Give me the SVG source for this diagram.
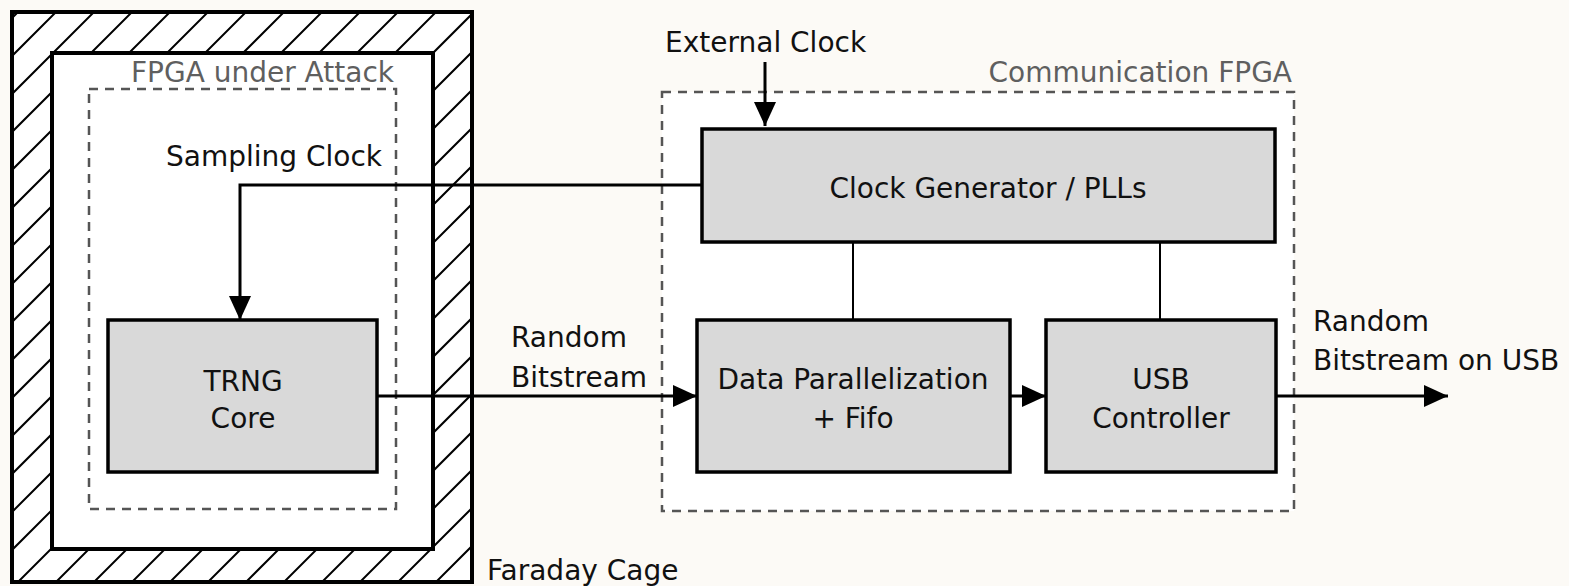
<svg xmlns="http://www.w3.org/2000/svg" width="1569" height="586" viewBox="0 0 1569 586">
<defs>
<clipPath id="cageclip">
<path d="M12,12 H472 V582 H12 Z M52,53 V549 H433 V53 Z" clip-rule="evenodd"/>
</clipPath>
<marker id="arr" viewBox="0 0 10 10" refX="10" refY="5" markerWidth="24" markerHeight="22" markerUnits="userSpaceOnUse" orient="auto" preserveAspectRatio="none">
<path d="M0,0 L10,5 L0,10 z" fill="#000"/>
</marker>
</defs>
<style>
.box{fill:#d9d9d9;stroke:#000;stroke-width:3.5}
.dash{fill:none;stroke:#555;stroke-width:2.5;stroke-dasharray:9,7}
.t{font-family:"DejaVu Sans",Verdana,sans-serif;font-size:28px;fill:#111}
.g{font-family:"DejaVu Sans",Verdana,sans-serif;font-size:28px;fill:#5f5f5f}
.c{text-anchor:middle}
.line{fill:none;stroke:#000;stroke-width:3}
.hatch{fill:none;stroke:#000;stroke-width:2}
</style>
<rect x="0" y="0" width="1569" height="586" fill="#fcfaf6"/>
<g id="faraday-cage">
<rect x="12" y="12" width="460" height="570" fill="#fff"/>
<path class="hatch" clip-path="url(#cageclip)" d="M-560,590 L30,0 M-522,590 L68,0 M-484,590 L106,0 M-446,590 L144,0 M-408,590 L182,0 M-370,590 L220,0 M-332,590 L258,0 M-294,590 L296,0 M-256,590 L334,0 M-218,590 L372,0 M-180,590 L410,0 M-142,590 L448,0 M-104,590 L486,0 M-66,590 L524,0 M-28,590 L562,0 M10,590 L600,0 M48,590 L638,0 M86,590 L676,0 M124,590 L714,0 M162,590 L752,0 M200,590 L790,0 M238,590 L828,0 M276,590 L866,0 M314,590 L904,0 M352,590 L942,0 M390,590 L980,0 M428,590 L1018,0 M466,590 L1056,0"/>
<rect x="12" y="12" width="460" height="570" fill="none" stroke="#000" stroke-width="4"/>
<rect x="52" y="53" width="381" height="496" fill="#fff" stroke="#000" stroke-width="4"/>
<text class="t" x="487" y="580">Faraday Cage</text>
</g>
<g id="fpga-under-attack">
<rect class="dash" x="89" y="89" width="307" height="420"/>
<text class="g" x="394" y="82" text-anchor="end">FPGA under Attack</text>
<text class="t" x="382" y="166" text-anchor="end">Sampling Clock</text>
</g>
<g id="communication-fpga">
<rect x="662" y="92" width="632" height="419" fill="#fff"/>
<rect class="dash" x="662" y="92" width="632" height="419"/>
<text class="g" x="1292" y="82" text-anchor="end">Communication FPGA</text>
</g>
<g id="connectors">
<path class="line" d="M702,185 H240 V320" marker-end="url(#arr)"/>
<path class="line" d="M765,62 V126" marker-end="url(#arr)"/>
<path class="line" d="M377,396 H697" marker-end="url(#arr)"/>
<path class="line" d="M1010,396 H1046" marker-end="url(#arr)"/>
<path class="line" d="M1276,396 H1448" marker-end="url(#arr)"/>
<path d="M853,242 V320 M1160,242 V320" stroke="#000" stroke-width="2" fill="none"/>
</g>
<g id="trng-core">
<rect class="box" x="108" y="320" width="269" height="152"/>
<text class="t c" x="243" y="391">TRNG</text>
<text class="t c" x="243" y="428">Core</text>
</g>
<g id="clock-generator">
<rect class="box" x="702" y="129" width="573" height="113"/>
<text class="t c" x="988" y="198">Clock Generator / PLLs</text>
</g>
<g id="data-parallelization">
<rect class="box" x="697" y="320" width="313" height="152"/>
<text class="t c" x="853" y="389">Data Parallelization</text>
<text class="t c" x="853" y="428">+ Fifo</text>
</g>
<g id="usb-controller">
<rect class="box" x="1046" y="320" width="230" height="152"/>
<text class="t c" x="1161" y="389">USB</text>
<text class="t c" x="1161" y="428">Controller</text>
</g>
<g id="labels">
<text class="t" x="665" y="52">External Clock</text>
<text class="t" x="511" y="347">Random</text>
<text class="t" x="511" y="387">Bitstream</text>
<text class="t" x="1313" y="331">Random</text>
<text class="t" x="1313" y="370">Bitstream on USB</text>
</g>
</svg>
